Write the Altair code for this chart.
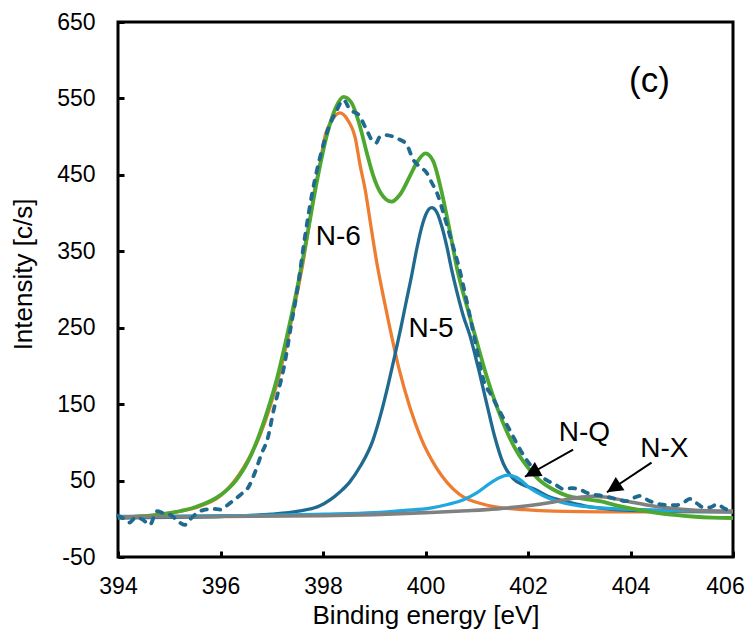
import altair as alt
import pandas as pd

FONT = "Liberation Sans"

# ---------------- data ----------------
x_ticks = [394, 396, 398, 400, 402, 404, 406]
y_ticks = [-50, 50, 150, 250, 350, 450, 550, 650]

# measured spectrum (dashed)
raw_x = [394.0, 394.12, 394.22, 394.35, 394.5, 394.62, 394.76, 394.9, 395.03, 395.15,
         395.3, 395.42, 395.55, 395.7, 395.85, 396.0, 396.1, 396.25, 396.4, 396.55,
         396.68, 396.8, 396.92, 397.04, 397.14, 397.24, 397.37, 397.5, 397.65, 397.8,
         397.95, 398.1, 398.25, 398.4, 398.53, 398.69, 398.85, 398.97, 399.04, 399.1,
         399.22, 399.37, 399.5, 399.63, 399.76, 399.9, 400.02, 400.12, 400.22, 400.35,
         400.5, 400.65, 400.81, 400.97, 401.13, 401.3, 401.46, 401.66, 401.85, 402.05,
         402.2, 402.38, 402.55, 402.69, 402.85, 403.02, 403.15, 403.27, 403.45, 403.6,
         403.75, 403.93, 404.05, 404.19, 404.35, 404.58, 404.75, 404.91, 405.05, 405.16,
         405.3, 405.42, 405.55, 405.69, 405.82, 405.94, 406.0]
raw_y = [4, 0, -5, 2, -2, -8, 10, 7, 5, -2,
         -8, 0, 8, 12, 13, 12, 16, 24, 32, 42,
         62, 85, 105, 143, 170, 199, 250, 300, 370, 430,
         475, 510, 532, 548, 535, 529, 509, 494, 492, 499,
         502, 500, 496, 490, 470, 460, 453, 440, 427, 400,
         365, 330, 283, 232, 182, 160, 139, 114, 90, 70,
         58, 50, 44, 39, 40, 38, 34, 32, 30, 28,
         25, 23, 27, 30, 24, 19, 18, 18, 22, 26,
         20, 15, 15, 19, 14, 10, 8]

# N-6 component (orange)
n6_x = [394.0, 394.73, 395.23, 395.53, 396.0, 396.45, 396.75, 396.96, 397.18, 397.35,
        397.48, 397.61, 397.73, 397.83, 397.94, 398.03, 398.18, 398.33, 398.48, 398.63,
        398.72, 398.83, 398.93, 399.05, 399.18, 399.31, 399.48, 399.7, 399.91, 400.21,
        400.66, 401.13, 401.43, 401.93, 402.5, 403.5, 404.5, 406.0]
n6_y = [2, 5, 10, 15, 30, 67, 106, 145, 197, 248,
        290, 335, 385, 428, 464, 498, 522, 531, 522, 498,
        464, 428, 385, 335, 290, 248, 197, 145, 106, 67,
        32, 19, 15, 12, 10, 9, 9, 9]

# N-5 component (dark blue)
n5_x = [394.0, 395.0, 396.0, 396.5, 397.0, 397.52, 397.94, 398.33, 398.52, 398.73,
        398.97, 399.12, 399.27, 399.4, 399.52, 399.62, 399.72, 399.82, 399.92, 400.02,
        400.12, 400.22, 400.32, 400.42, 400.51, 400.62, 400.74, 400.87, 401.02, 401.19,
        401.34, 401.52, 401.72, 401.92, 402.12, 402.4, 402.77, 403.1, 403.4, 404.0,
        405.0, 406.0]
n5_y = [1, 2, 3, 4, 6, 10, 17, 35, 48, 69,
        102, 135, 175, 213, 250, 283, 315, 350, 380, 400,
        407, 401, 382, 355, 326, 295, 265, 239, 200, 152,
        110, 72, 52, 44, 39, 29, 22, 17, 14, 11,
        10, 9]

# N-Q component (light blue)
nq_x = [394.0, 396.0, 398.0, 399.0, 399.6, 400.09, 400.45, 400.74, 401.0, 401.25,
        401.45, 401.6, 401.78, 402.04, 402.3, 402.68, 403.0, 403.5, 404.0, 405.0, 406.0]
nq_y = [3, 4, 6, 8, 11, 14, 19, 25, 34, 46,
        54, 57, 54, 40, 30, 21, 17, 14, 12.5, 10.5, 9.5]

# N-X component (grey)
nx_x = [394.0, 396.0, 398.0, 399.0, 400.0, 400.8, 401.4, 402.0, 402.5, 402.9,
        403.25, 403.6, 404.0, 404.5, 405.0, 405.5, 406.0]
nx_y = [2.5, 3, 4, 5.5, 8, 10.5, 13, 17, 22, 27,
        29.5, 27.5, 22, 16, 12.5, 10.5, 10]

# fitted envelope (green)
env_x = [394.0, 394.5, 395.0, 395.5, 396.0, 396.3, 396.6, 396.9, 397.1, 397.3,
         397.5, 397.7, 397.9, 398.1, 398.25, 398.4, 398.55, 398.72, 398.85, 398.98,
         399.12, 399.34, 399.5, 399.7, 399.83, 400.0, 400.15, 400.3, 400.47, 400.62,
         400.8, 400.97, 401.2, 401.4, 401.6, 401.8, 402.0, 402.2, 402.5, 402.77,
         403.1, 403.4, 403.7, 404.05, 404.4, 404.7, 405.2, 405.6, 406.0]
env_y = [2, 3.5, 7.5, 15, 31, 50, 84, 138, 183, 240,
         303, 374, 448, 508, 538, 552, 545, 514, 480, 449,
         427, 415, 424, 449, 466, 478, 468, 432, 378, 326,
         280, 239, 185, 145, 112, 86, 67, 52, 38, 30,
         26, 23, 18, 13, 9, 6, 3, 1.5, 1]

# annotations
ann_text = ["N-6", "N-5", "N-Q", "N-X"]
ann_x = [398.30, 400.11, 403.10, 404.66]
ann_y = [358.8, 238.0, 101.4, 81.0]

panel_text = ["(c)"]
panel_x = [404.37]
panel_y = [558.4]

arrow_x = [402.88, 404.41]
arrow_y = [90.6, 73.4]
tip_x = [401.94, 403.54]
tip_y = [55.0, 34.7]
tip_angle = [240.6, 236.6]

# ---------------- chart ----------------
x_scale = alt.Scale(domain=[394, 406], nice=False, zero=False)
y_scale = alt.Scale(domain=[-50, 650], nice=False, zero=False)

x_axis = alt.Axis(
    values=x_ticks, title="Binding energy [eV]", domain=False, grid=False,
    offset=-6, tickSize=6, tickWidth=3, tickColor="black",
    labelFont=FONT, labelFontSize=23, labelColor="black", labelPadding=18,
    labelFlush=False, labelOverlap=False, labelExpr="'' + datum.value",
    labelOffset={"condition": {"test": "datum.value == 406", "value": -8}, "value": 0},
    titleFont=FONT, titleFontSize=26, titleFontWeight="normal", titleColor="black",
    titleBaseline="alphabetic", titleAlign="center", titleX=307.5, titleY=72,
)
y_axis = alt.Axis(
    values=y_ticks, title="Intensity [c/s]", domain=False, grid=False,
    offset=-6, tickSize=6, tickWidth=3, tickColor="black",
    labelFont=FONT, labelFontSize=23, labelColor="black", labelPadding=23,
    labelFlush=False, labelOverlap=False, labelExpr="'' + datum.value",
    titleFont=FONT, titleFontSize=26, titleFontWeight="normal", titleColor="black",
    titleBaseline="alphabetic", titleAlign="center", titleAngle=270,
    titleX=-93, titleY=252,
)

X = alt.X("x:Q", scale=x_scale, axis=x_axis)
Y = alt.Y("y:Q", scale=y_scale, axis=y_axis)


def line(xs, ys, color, width, dash=None):
    kw = dict(color=color, strokeWidth=width, interpolate="monotone")
    if dash is not None:
        kw["strokeDash"] = dash
        kw["strokeCap"] = "round"
    return alt.Chart(pd.DataFrame({"x": xs, "y": ys})).mark_line(**kw).encode(x=X, y=Y)


layers = [
    line(n6_x, n6_y, "#ED7D31", 3.3),
    line(n5_x, n5_y, "#1F6A8E", 3.3),
    line(nq_x, nq_y, "#1FA7E0", 3.3),
    line(env_x, env_y, "#4EA82F", 3.8),
    line(nx_x, nx_y, "#808080", 3.6),
    line(raw_x, raw_y, "#1F6A8E", 3.8, dash=[5.5, 8]),
]

ann_df = pd.DataFrame({"x": ann_x, "y": ann_y, "label": ann_text})
layers.append(
    alt.Chart(ann_df).mark_text(font=FONT, fontSize=28, align="center",
                                baseline="alphabetic", color="black")
    .encode(x=X, y=Y, text="label:N")
)
panel_df = pd.DataFrame({"x": panel_x, "y": panel_y, "label": panel_text})
layers.append(
    alt.Chart(panel_df).mark_text(font=FONT, fontSize=35, align="center",
                                  baseline="alphabetic", color="black")
    .encode(x=X, y=Y, text="label:N")
)

arr_df = pd.DataFrame({"x": arrow_x, "y": arrow_y, "x2": tip_x, "y2": tip_y})
layers.append(
    alt.Chart(arr_df).mark_rule(color="black", strokeWidth=2)
    .encode(x=X, y=Y, x2="x2:Q", y2="y2:Q")
)
tip_df = pd.DataFrame({"x": tip_x, "y": tip_y, "angle": tip_angle})
layers.append(
    alt.Chart(tip_df).mark_point(shape="M0,0L-0.5,1L0.5,1Z", filled=True,
                                 color="black", opacity=1, size=1000, strokeWidth=0)
    .encode(x=X, y=Y, angle=alt.Angle("angle:Q", scale=None))
)

chart = (
    alt.layer(*layers)
    .properties(
        width=615, height=535,
        autosize=alt.AutoSizeParams(type="none"),
        padding={"left": 110, "top": 14, "right": 13, "bottom": 72},
        background="white",
    )
    .configure_view(stroke="black", strokeWidth=3)
)

chart.save("out.html", embed_options={"renderer": "svg", "actions": False})
